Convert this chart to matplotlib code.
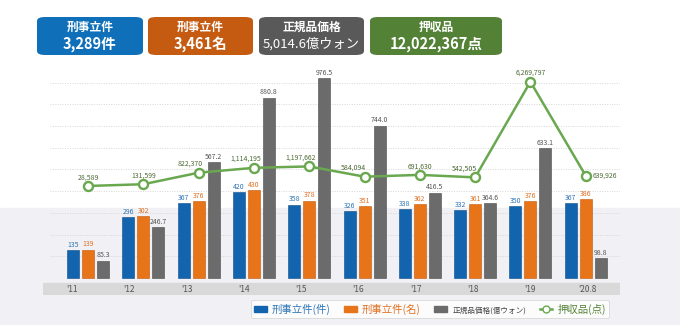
import matplotlib.pyplot as plt
import numpy as np
from matplotlib.patches import FancyBboxPatch, Rectangle, Patch
from matplotlib.lines import Line2D

plt.rcParams['font.family'] = ['Noto Sans CJK JP', 'DejaVu Sans']

# data
years = ["'11", "'12", "'13", "'14", "'15", "'16", "'17", "'18", "'19", "'20.8"]
cases = [135, 296, 367, 420, 358, 326, 338, 332, 350, 367]          # 刑事立件(件)
persons = [139, 302, 376, 430, 378, 351, 362, 361, 376, 386]        # 刑事立件(名)
price = [85.3, 246.7, 567.2, 880.8, 976.5, 744.0, 416.5, 364.6, 633.1, 98.8]  # 億ウォン
seized = [28589, 131599, 822370, 1114195, 1197662, 584094, 691630, 542505, 6269797, 639926]

summary = [("刑事立件", "3,289件"), ("刑事立件", "3,461名"),
           ("正規品価格", "5,014.6億ウォン"), ("押収品", "12,022,367点")]

c_blue = '#1264ae'
c_orange = '#e8741a'
c_gray = '#6b6b6b'
c_green = '#6aa84f'

W, H = 680, 325
fig = plt.figure(figsize=(W / 100, H / 100), dpi=100)


def fx(px):
    return px / W


def fy(py):
    return 1 - py / H


# light background in the lower part
fig.add_artist(Rectangle((0, 0), 1, fy(208), transform=fig.transFigure,
                         color='#f1f1f5', zorder=0))

# summary boxes on top
boxes = [(37, 106, '#0f6fb8'), (148, 105, '#c55a11'), (259, 105, '#595959'), (370, 132, '#538135')]
for (left, bw, col), (t1, t2) in zip(boxes, summary):
    fig.add_artist(FancyBboxPatch((fx(left), fy(55)), bw / W, 38 / H,
                                  boxstyle='round,pad=0,rounding_size=0.012',
                                  transform=fig.transFigure, fc=col, ec='none'))
    cx = fx(left + bw / 2)
    fig.text(cx, fy(27), t1, color='white', fontsize=8.5, fontweight='bold',
             ha='center', va='center')
    if col == '#595959':
        fig.text(cx, fy(44), t2, color='white', fontsize=9.5,
                 ha='center', va='center')
    else:
        fig.text(cx, fy(44), t2, color='white', fontsize=10.5, fontweight='bold',
                 ha='center', va='center')

ax = fig.add_axes([fx(43), 30 / H, 577 / W, 235 / H])
ax.set_facecolor('none')
ax.set_zorder(1)

x = np.arange(len(years))
w = 0.217
off = 0.271

ax.set_xlim(-0.814, 9.62)
ax.set_ylim(-83, 1064)

for g in np.arange(106, 1000, 106):
    ax.axhline(g, xmin=0.012, color='#d6d6d6', lw=0.7, ls=(0, (1, 1.5)), zorder=0)

ax.axhspan(-83, -24, color='#d9d9d9', zorder=1)

ax.bar(x - off, cases, w, color=c_blue, edgecolor='#0b4a85', lw=0.4, zorder=3)
ax.bar(x, persons, w, color=c_orange, edgecolor='#c2580c', lw=0.4, zorder=3)
ax.bar(x + off, price, w, color=c_gray, edgecolor='#4a4a4a', lw=0.4, zorder=3)

for i in range(len(years)):
    ax.text(x[i] - off, cases[i] + 6, str(cases[i]), fontsize=5, color='#2e75b6',
            ha='center', va='bottom', zorder=5)
    ax.text(x[i], persons[i] + 6, str(persons[i]), fontsize=5, color='#e07020',
            ha='center', va='bottom', zorder=5)
    ax.text(x[i] + off, price[i] + 6, f"{price[i]:.1f}", fontsize=5, color='#555555',
            ha='center', va='bottom', zorder=5)
    lx = x[i] + (-16 + 2 * i) / 55.3
    ax.text(lx, -54, years[i], fontsize=6, color='#555555', ha='center', va='center', zorder=5)

for s in ax.spines.values():
    s.set_visible(False)
ax.set_xticks([])
ax.set_yticks([])

ax2 = ax.twinx()
ax2.set_ylim(-6.50e6, 7.57e6)
ax2.plot(x, seized, color=c_green, lw=1.8, marker='o', ms=6.5, mfc='white',
         mec=c_green, mew=1.7, zorder=4)
label_dx = [0, 0, -0.15, -0.15, -0.15, -0.2, 0, -0.2, 0, 0]
for i in range(len(years)):
    if i == len(years) - 1:
        ax2.text(x[i] + 0.13, seized[i], f"{seized[i]:,}", fontsize=5, color='#4d6b35',
                 ha='left', va='center')
    else:
        ax2.text(x[i] + label_dx[i], seized[i] + 0.28e6, f"{seized[i]:,}", fontsize=5,
                 color='#4d6b35', ha='center', va='bottom')
for s in ax2.spines.values():
    s.set_visible(False)
ax2.set_yticks([])

handles = [Patch(color=c_blue), Patch(color=c_orange), Patch(color=c_gray),
           Line2D([], [], color=c_green, lw=1.8, marker='o', ms=5, mfc='white', mec=c_green)]
labels = ['刑事立件(件)', '刑事立件(名)', '正規品価格(億ウォン)', '押収品(点)']
leg = fig.legend(handles, labels, loc='center', bbox_to_anchor=(fx(430), fy(309)),
                 ncol=4, frameon=True, fontsize=7.5, handlelength=1.2, handleheight=0.6,
                 columnspacing=1.3, handletextpad=0.5, borderpad=0.3, borderaxespad=0)
leg.get_frame().set_edgecolor('#d0d0d0')
leg.get_frame().set_linewidth(0.6)
txt_cols = ['#2e75b6', '#e07020', '#444444', '#548235']
for t, c in zip(leg.get_texts(), txt_cols):
    t.set_color(c)
leg.get_texts()[2].set_fontsize(5.5)

fig.savefig('out.png', dpi=100)
